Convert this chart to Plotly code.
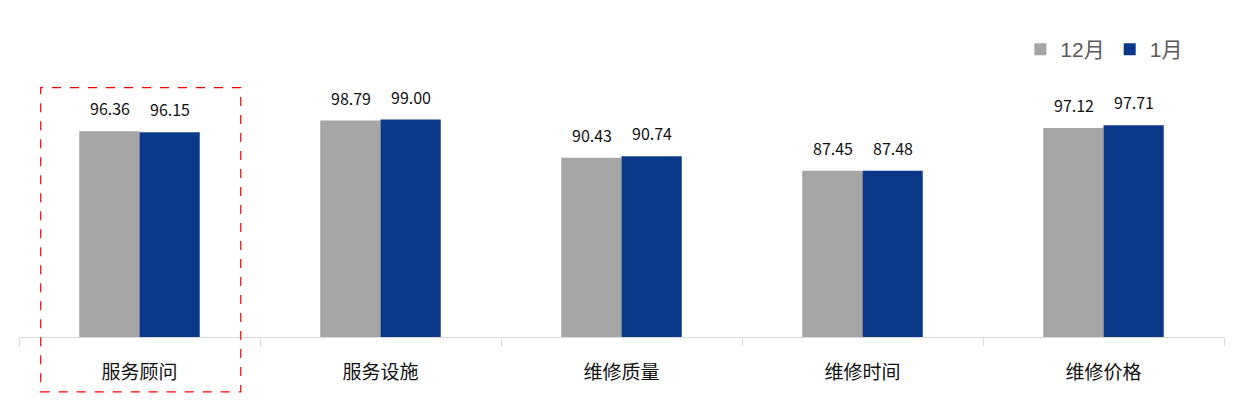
import plotly.graph_objects as go

categories = ["服务顾问", "服务设施", "维修质量", "维修时间", "维修价格"]
dec_values = [96.36, 98.79, 90.43, 87.45, 97.12]
jan_values = [96.15, 99.00, 90.74, 87.48, 97.71]
series_names = ["12月", "1月"]
series_colors = ["#A5A5A5", "#0B3888"]

FONT = "Noto Sans CJK SC, Microsoft YaHei, sans-serif"
LEG_FONT = "Liberation Sans, Arial, Noto Sans CJK SC, sans-serif"

fig = go.Figure()
for name, vals, col in zip(series_names, [dec_values, jan_values], series_colors):
    fig.add_trace(go.Bar(x=categories, y=vals, name=name, marker_color=col,
                         marker_line_width=0, hoverinfo="skip"))

# data labels
for vals, shift in [(dec_values, -30), (jan_values, 30)]:
    for c, v in zip(categories, vals):
        fig.add_annotation(x=c, y=v, xref="x", yref="y", text=f"{v:.2f}",
                           showarrow=False, xshift=shift, yshift=9, yanchor="bottom",
                           font=dict(family=FONT, size=16, color="#111111"))

# dashed highlight box around first category
fig.add_shape(type="rect", xref="x", yref="paper", x0=-0.41, x1=0.42,
              y0=-0.225, y1=1.022, line=dict(color="#FF0000", width=1.2, dash="dash"),
              fillcolor="rgba(0,0,0,0)", layer="above")

fig.update_layout(
    width=1241, height=412,
    margin=dict(l=11, r=25, t=85, b=83),
    paper_bgcolor="white", plot_bgcolor="white",
    barmode="group", bargap=0.5, bargroupgap=0,
    showlegend=True,
    legend=dict(orientation="h", x=0.831, xanchor="left", y=1.178, yanchor="middle",
                font=dict(family=LEG_FONT, size=21, color="#595959"),
                itemwidth=30, traceorder="normal"),
    font=dict(family=FONT),
)
fig.update_xaxes(showline=True, linecolor="#D9D9D9", linewidth=1,
                 ticks="outside", tickson="boundaries", ticklen=8, tickcolor="#D9D9D9",
                 tickfont=dict(family=FONT, size=19, color="#111111"),
                 ticklabelstandoff=18, showgrid=False)
fig.update_yaxes(range=[50, 105], visible=False, showgrid=False, zeroline=False)

fig.write_html("out.html")
